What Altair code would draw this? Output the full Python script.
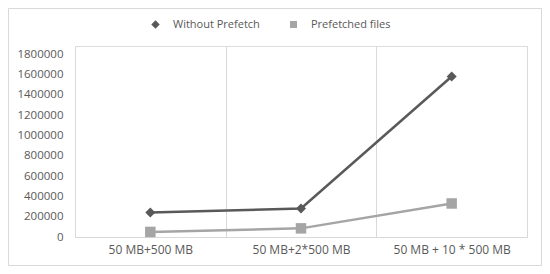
import altair as alt
import pandas as pd

categories = ["50 MB+500 MB", "50 MB+2*500 MB", "50 MB + 10 * 500 MB"]
series_names = ["Without Prefetch", "Prefetched files"]
without_prefetch = [240000, 280000, 1580000]
prefetched_files = [50000, 85000, 330000]
y_ticks = [0, 200000, 400000, 600000, 800000, 1000000, 1200000, 1400000, 1600000, 1800000]

rows = []
for c, v in zip(categories, without_prefetch):
    rows.append({"cat": c, "series": series_names[0], "value": v})
for c, v in zip(categories, prefetched_files):
    rows.append({"cat": c, "series": series_names[1], "value": v})
df = pd.DataFrame(rows)

FONT = "Open Sans"
TXT = "#595959"
GRID = "#d9d9d9"
W, H = 452, 191
PL, PT, PR, PB = 67, 38, 15, 29

colors = ["#595959", "#a5a5a5"]
legend_paths = [
    "M-2,0H2M0,-0.6L0.6,0L0,0.6L-0.6,0Z",
    "M-2,0H2M-0.5,-0.5H0.5V0.5H-0.5Z",
]
legend_x = [72, 210]


def make_legend(i):
    return alt.Legend(title=None, orient="none", direction="horizontal",
                      legendX=legend_x[i], legendY=-30, symbolSize=196,
                      labelFont=FONT, labelFontSize=11, labelColor=TXT,
                      labelOffset=9, symbolStrokeWidth=2.5, symbolOpacity=1,
                      symbolFillColor=colors[i], symbolStrokeColor=colors[i])


x = alt.X("cat:N", sort=categories, title=None,
          scale=alt.Scale(paddingInner=0, paddingOuter=0),
          axis=alt.Axis(labelAngle=0, tickBand="extent", ticks=False, grid=True,
                        gridColor=GRID, gridWidth=1, domainColor=GRID, domainWidth=1,
                        labelFont=FONT, labelFontSize=12, labelColor=TXT, labelPadding=7))
y = alt.Y("value:Q", title=None,
          scale=alt.Scale(domain=[0, 1880000], nice=False),
          axis=alt.Axis(values=y_ticks, grid=False, domain=False, ticks=False,
                        labelFont=FONT, labelFontSize=11.5, labelColor=TXT, labelPadding=12,
                        format="d"))
color = alt.Color("series:N", scale=alt.Scale(domain=series_names, range=colors), legend=None)

base = alt.Chart(df)
lines = base.mark_line(strokeWidth=2.5).encode(x=x, y=y, color=color)
pts_without = base.mark_point(filled=True, opacity=1, shape="diamond", size=100).encode(
    x=x, y=y, color=color
).transform_filter(alt.datum.series == series_names[0])
pts_pref = base.mark_point(filled=True, opacity=1, shape="square", size=110).encode(
    x=x, y=y, color=color
).transform_filter(alt.datum.series == series_names[1])

legend_layers = []
for i in range(2):
    legend_layers.append(
        base.mark_point(filled=True, opacity=1, fill=colors[i], stroke=colors[i],
                        strokeWidth=2.5).encode(
            x=x, y=y,
            shape=alt.Shape("series:N",
                            scale=alt.Scale(domain=[series_names[i]], range=[legend_paths[i]]),
                            legend=make_legend(i)),
        ).transform_filter("false")
    )

border = alt.Chart(pd.DataFrame({"a": [0]})).mark_rect(fill=None, stroke=GRID, strokeWidth=1).encode(
    x=alt.value(-PL + 0.5), x2=alt.value(W + PR - 0.5),
    y=alt.value(-PT + 0.5), y2=alt.value(H + PB - 0.5),
)

chart = alt.layer(border, lines, pts_without, pts_pref, *legend_layers).resolve_scale(
    shape="independent"
).properties(
    width=W, height=H, autosize="none",
    padding={"left": PL, "top": PT, "right": PR, "bottom": PB},
).configure_view(stroke=None).configure(background="white")

chart.save("out.html", embed_options={"renderer": "svg", "actions": False})
